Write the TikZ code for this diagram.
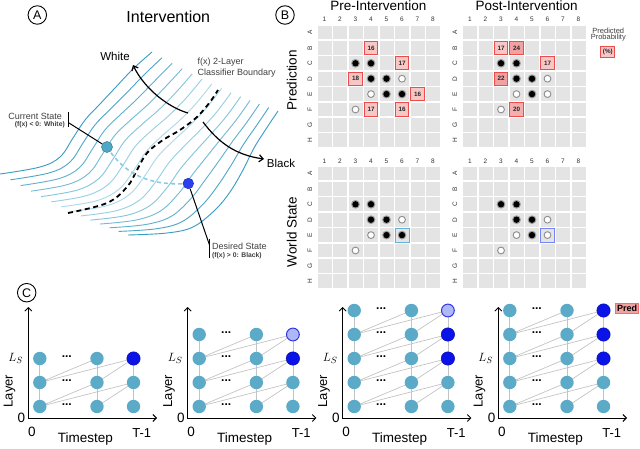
\documentclass[tikz,border=0pt]{standalone}
\usepackage{fontspec}
\setmainfont{Liberation Sans}
\usetikzlibrary{arrows.meta}
\definecolor{cellgray}{HTML}{E4E4E4}
\definecolor{boxred}{HTML}{EE4B4B}
\definecolor{pinkA}{HTML}{F9C6C6}
\definecolor{pinkB}{HTML}{F3A0A0}
\definecolor{pinkC}{HTML}{F5AEAE}
\definecolor{selteal}{HTML}{62B5D6}
\definecolor{selblue}{HTML}{7585F2}
\definecolor{waveDark}{HTML}{3A9BC1}
\definecolor{waveLight}{HTML}{B3DEED}
\definecolor{nodeteal}{HTML}{5BABC8}
\definecolor{nodeblue}{HTML}{0A14E8}
\definecolor{nodelav}{HTML}{AEB8F6}
\definecolor{connGray}{HTML}{C4C4C4}
\definecolor{curfill}{HTML}{4FA8C6}
\definecolor{desfill}{HTML}{2B3FEF}
\definecolor{txtgray}{HTML}{404040}
\definecolor{pathblue}{HTML}{8DCBE2}
\newcommand\fsz[1]{\fontsize{#1}{#1}\selectfont}
\newcommand\IX[3]{(1-\t)*(#1)+\t*(#2)+\w*((#3)-0.5*(#1)-0.5*(#2))}
\newcommand\gx[2]{#1+(#2-1)*15.5}
\newcommand\gy[2]{#1+(#2-1)*15.4}
\newcommand\gCells[2]{\foreach \c in {1,...,8}{\foreach \r in {1,...,8}{\fill[cellgray] ({\gx{#1}{\c}-7},{\gy{#2}{\r}-6.95}) rectangle ({\gx{#1}{\c}+7},{\gy{#2}{\r}+6.95});}}}
\newcommand\gLabels[5]{%
  \foreach \c in {1,...,8}{\node[lbl] (#5c\c) at ({\gx{#1}{\c}},#3) {\c};}
  \foreach \r/\L in {1/A,2/B,3/C,4/D,5/E,6/F,7/G,8/H}{\node[lbl,rotate=90] (#5r\L) at (#4,{\gy{#2}{\r}}) {\L};}}
\newcommand\gBlack[4]{\fill[black!38] ({\gx{#1}{#3}},{\gy{#2}{#4}}) circle (4.4pt); \fill[black] ({\gx{#1}{#3}},{\gy{#2}{#4}}) circle (3.2pt);}
\newcommand\gWhite[4]{\filldraw[fill=white,draw=black!45,line width=0.9pt] ({\gx{#1}{#3}},{\gy{#2}{#4}}) circle (3.4pt);}
\newcommand\gProb[7]{\node[probbox,fill=#6] (#7) at ({\gx{#1}{#3}},{\gy{#2}{#4}}) {#5};}
\newcommand\gSel[6]{\node[selbox=#5] (#6) at ({\gx{#1}{#3}},{\gy{#2}{#4}}) {};}
\newcommand\panelC[4]{%
  \pgfmathtruncatemacro\rmax{#3-1}
  \draw[axis,<->] (#2,307) -- (#2,418) -- ({#2+128.7},418);
  \foreach \r in {1,...,#3}{
    \coordinate (#1p1\r) at ({#2+11.5},{406.5-(\r-1)*24});
    \coordinate (#1p2\r) at ({#2+68.7},{406.5-(\r-1)*24});
    \coordinate (#1p3\r) at ({#2+105.2},{406.5-(\r-1)*24});
  }
  \foreach \c in {1,2,3}{\draw[conn] (#1p\c1) -- (#1p\c#3);}
  \foreach \r in {1,...,\rmax}{
    \pgfmathtruncatemacro\rn{\r+1}
    \draw[conn] (#1p1\r) -- (#1p2\rn);
    \draw[conn] (#1p1\r) -- (#1p3\rn);
    \draw[conn] (#1p2\r) -- (#1p3\rn);
  }
  \foreach \r in {1,...,#3}{
    \node[tnode] (#1n1\r) at (#1p1\r) {};
    \node[tnode] (#1n2\r) at (#1p2\r) {};
    \node[dotsty] (#1d\r) at ({#2+38.5},{406.5-(\r-1)*24-2}) {...};
  }
  \foreach \r/\st in {#4}{\begingroup\edef\tmp{\noexpand\node[\st] (#1n3\r) at (#1p3\r) {};}\tmp\endgroup}
  \node[txt,font=\fsz{13},rotate=90] (#1lay) at ({#2-18.8},391) {Layer};
  \node[txt,font=\fsz{13}] (#1ls) at ({#2-12.5},358) {$L_S$};
  \node[txt,font=\fsz{13.5}] (#1za) at ({#2-6.8},418) {0};
  \node[txt,font=\fsz{13.5}] (#1zb) at ({#2+3.5},432) {0};
  \node[txt,font=\fsz{13.5}] (#1ts) at ({#2+57},439.5) {Timestep};
  \node[txt,font=\fsz{13}] (#1tm) at ({#2+113.5},433) {T-1};
}
\begin{document}
\begin{tikzpicture}[x=1pt,y=-1pt,
  lbl/.style={font=\fsz{6.5},inner sep=0pt,text=black!80},
  probbox/.style={draw=boxred,line width=0.9pt,minimum width=13.4pt,minimum height=13.2pt,inner sep=0pt,font=\bfseries\fsz{6.3},text=black!85},
  selbox/.style={draw=#1,line width=1pt,minimum width=14pt,minimum height=13.9pt,inner sep=0pt},
  circlbl/.style={circle,draw,line width=0.9pt,minimum size=18.5pt,inner sep=0pt,font=\fsz{12.5}},
  txt/.style={inner sep=0pt},
  wave/.style={line width=0.9pt},
  axis/.style={line width=0.9pt,>={Straight Barb[length=3.5pt,width=7pt]}},
  conn/.style={draw=connGray,line width=0.7pt},
  tnode/.style={circle,fill=nodeteal,minimum size=13.4pt,inner sep=0pt},
  dnode/.style={circle,fill=nodeblue,draw=nodeblue!75!black,line width=0.5pt,minimum size=13.4pt,inner sep=0pt},
  lnode/.style={circle,fill=nodelav,draw=nodeblue!85,line width=1pt,minimum size=12.8pt,inner sep=0pt},
  dotsty/.style={inner sep=0pt,font=\bfseries\fsz{12}},
  arr/.style={line width=1.2pt,-{Straight Barb[length=4pt,width=7pt]}}
]
\useasboundingbox (0,0) rectangle (640,449);
\fill[white] (0,0) rectangle (640,449);

% ---------------- Panel A ----------------
\foreach \k in {0,...,13}{
  \pgfmathsetmacro\t{\k/13}
  \pgfmathsetmacro\w{0.55*sin(180*\t)}
  \pgfmathtruncatemacro\p{100*abs(2*\t-1)}
  \coordinate (w1) at ({\IX{0}{128}{68}},{\IX{174}{235}{213}});
  \coordinate (w2) at ({\IX{40}{167}{100}},{\IX{167}{233}{206}});
  \coordinate (w3) at ({\IX{60}{193}{122}},{\IX{157}{227}{192}});
  \coordinate (w4) at ({\IX{73}{215}{135}},{\IX{138}{210}{173}});
  \coordinate (w5) at ({\IX{85}{230}{147}},{\IX{120}{192}{153}});
  \coordinate (w6) at ({\IX{100}{243}{165}},{\IX{104}{170}{139}});
  \coordinate (w7) at ({\IX{115}{254}{185}},{\IX{88}{148}{127}});
  \coordinate (w8) at ({\IX{133}{266}{203}},{\IX{69}{129}{111}});
  \coordinate (w9) at ({\IX{152}{278}{218}},{\IX{52}{111}{90}});
  \draw[wave,draw=waveDark!\p!waveLight] plot[smooth,tension=0.6] coordinates {(w1) (w2) (w3) (w4) (w5) (w6) (w7) (w8) (w9)};
}
\draw[line width=1.8pt,dash pattern=on 5pt off 3.6pt] plot[smooth,tension=0.6] coordinates {(68,213) (107,203) (127,187) (137,170) (147,153) (163,140) (180,130) (197,117) (210,102) (218,90)};

\coordinate (curc) at (107,147);
\coordinate (desc) at (188.3,183.5);
\draw[pathblue,line width=1.6pt,dash pattern=on 4pt off 3pt] (curc) .. controls (125,175) and (150,186) .. (desc);
\node[circle,fill=curfill,draw=curfill!80!black,line width=0.6pt,minimum size=11pt,inner sep=0pt] (cur) at (curc) {};
\node[circle,fill=desfill,draw=desfill!80!black,line width=0.6pt,minimum size=10.5pt,inner sep=0pt] (des) at (desc) {};

\draw[line width=1pt] (68.3,112) -- (68.3,127);
\coordinate (cbar) at (69,123);
\draw[line width=1pt] (cbar) -- (cur);
\draw[line width=1pt] (209.5,239) -- (209.5,258);
\coordinate (dbar) at (209.5,245);
\draw[line width=1pt] (des) -- (dbar);

\coordinate (wst) at (188,113);
\coordinate (wen) at (133,65);
\draw[arr] (wst) .. controls (170,108) and (145,90) .. (wen);
\coordinate (bkst) at (203,122);
\coordinate (bken) at (264,159);
\draw[arr] (bkst) .. controls (218,142) and (235,155) .. (bken);

\node[txt,font=\fsz{11.5}] (tw) at (115,56) {White};
\node[txt,font=\fsz{11.5}] (tb) at (281,163) {Black};
\node[txt,font=\fsz{9},text=txtgray,anchor=west] (tf1) at (197.5,62) {f(x) 2-Layer};
\node[txt,font=\fsz{9},text=txtgray,anchor=west] (tf2) at (197.5,73.5) {Classifier Boundary};
\node[txt,font=\fsz{9},text=txtgray,anchor=east] (tcs) at (62,116) {Current State};
\node[txt,font=\bfseries\fsz{6.8},text=txtgray,anchor=east] (tcs2) at (65,124.5) {(f(x) < 0: White)};
\node[txt,font=\fsz{9},text=txtgray,anchor=west] (tds) at (212,246) {Desired State};
\node[txt,font=\bfseries\fsz{6.8},text=txtgray,anchor=west] (tds2) at (212,256) {(f(x) > 0: Black)};

\node[circlbl] (lA) at (37.3,15) {A};
\node[txt,font=\fsz{16}] (tInt) at (168.3,16.7) {Intervention};

% ---------------- Panel B ----------------
\node[circlbl] (lB) at (285,15) {B};
\node[txt,font=\fsz{13.5},anchor=base] (tPre) at (378.3,10.5) {Pre-Intervention};
\node[txt,font=\fsz{13.5},anchor=base] (tPost) at (526.7,10.5) {Post-Intervention};
\node[txt,font=\fsz{13.5},rotate=90] (tPred) at (291.7,80) {Prediction};
\node[txt,font=\fsz{13.5},rotate=90] (tWorld) at (291.7,232) {World State};

\gCells{324.5}{32.5}
\gCells{470}{32.5}
\gCells{324.5}{173.5}
\gCells{470}{173.5}
\gLabels{324.5}{32.5}{19}{310}{la}
\gLabels{470}{32.5}{19}{455}{lb}
\gLabels{324.5}{173.5}{161}{310}{lc}
\gLabels{470}{173.5}{161}{455}{ld}

% pre prediction
\gProb{324.5}{32.5}{4}{2}{16}{pinkA}{pa1}
\gProb{324.5}{32.5}{6}{3}{17}{pinkA}{pa2}
\gProb{324.5}{32.5}{3}{4}{18}{pinkA}{pa3}
\gProb{324.5}{32.5}{7}{5}{16}{pinkA}{pa4}
\gProb{324.5}{32.5}{4}{6}{17}{pinkA}{pa5}
\gProb{324.5}{32.5}{6}{6}{16}{pinkA}{pa6}
\gBlack{324.5}{32.5}{3}{3}\gBlack{324.5}{32.5}{4}{3}
\gBlack{324.5}{32.5}{4}{4}\gBlack{324.5}{32.5}{5}{4}
\gBlack{324.5}{32.5}{5}{5}\gBlack{324.5}{32.5}{6}{5}
\gWhite{324.5}{32.5}{6}{4}\gWhite{324.5}{32.5}{4}{5}\gWhite{324.5}{32.5}{3}{6}
% post prediction
\gProb{470}{32.5}{3}{2}{17}{pinkA}{pb1}
\gProb{470}{32.5}{4}{2}{24}{pinkB}{pb2}
\gProb{470}{32.5}{6}{3}{17}{pinkA}{pb3}
\gProb{470}{32.5}{3}{4}{22}{pinkB}{pb4}
\gProb{470}{32.5}{4}{6}{20}{pinkC}{pb5}
\gBlack{470}{32.5}{3}{3}\gBlack{470}{32.5}{4}{3}
\gBlack{470}{32.5}{4}{4}\gBlack{470}{32.5}{5}{4}
\gBlack{470}{32.5}{5}{5}
\gWhite{470}{32.5}{6}{4}\gWhite{470}{32.5}{4}{5}\gWhite{470}{32.5}{6}{5}\gWhite{470}{32.5}{3}{6}
% pre world
\gSel{324.5}{173.5}{6}{5}{selteal}{sa}
\gBlack{324.5}{173.5}{3}{3}\gBlack{324.5}{173.5}{4}{3}
\gBlack{324.5}{173.5}{4}{4}\gBlack{324.5}{173.5}{5}{4}
\gBlack{324.5}{173.5}{5}{5}\gBlack{324.5}{173.5}{6}{5}
\gWhite{324.5}{173.5}{6}{4}\gWhite{324.5}{173.5}{4}{5}\gWhite{324.5}{173.5}{3}{6}
% post world
\gSel{470}{173.5}{6}{5}{selblue}{sb}
\gBlack{470}{173.5}{3}{3}\gBlack{470}{173.5}{4}{3}
\gBlack{470}{173.5}{4}{4}\gBlack{470}{173.5}{5}{4}
\gBlack{470}{173.5}{5}{5}
\gWhite{470}{173.5}{6}{4}\gWhite{470}{173.5}{4}{5}\gWhite{470}{173.5}{6}{5}\gWhite{470}{173.5}{3}{6}

% legend
\node[txt,font=\fsz{7.5},text=txtgray] (lg1) at (608.3,30.5) {Predicted};
\node[txt,font=\fsz{7.5},text=txtgray] (lg2) at (608.3,37.5) {Probability};
\node[probbox,fill=pinkA,minimum width=14pt,minimum height=10.5pt] (lgb) at (607.8,52) {(\%)};

% ---------------- Panel C ----------------
\node[circlbl] (lC) at (26.7,292.7) {C};
\panelC{a}{28.3}{3}{1/tnode,2/tnode,3/dnode}
\panelC{b}{187.7}{4}{1/tnode,2/tnode,3/dnode,4/lnode}
\panelC{c}{342.7}{5}{1/tnode,2/tnode,3/dnode,4/dnode,5/lnode}
\panelC{d}{498.3}{5}{1/tnode,2/tnode,3/dnode,4/dnode,5/dnode}
\node[fill=pinkB,draw=boxred!80,line width=0.6pt,minimum width=23.5pt,minimum height=10.5pt,inner sep=0pt,font=\bfseries\fsz{9}] (pred) at (627,308.5) {Pred};
\end{tikzpicture}
\end{document}
